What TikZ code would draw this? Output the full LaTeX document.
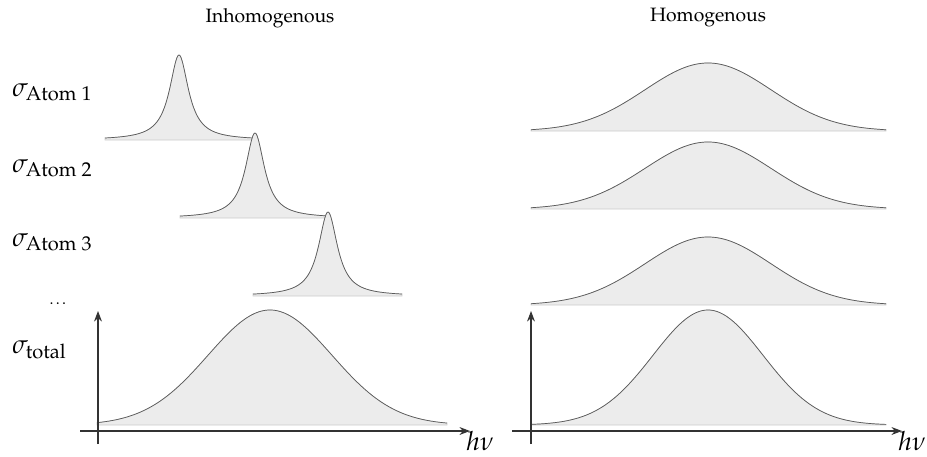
\documentclass[tikz,border=0pt]{standalone}
\usepackage{amsmath}
\usepackage[T1]{fontenc}
\usepackage{mathpazo}
\usetikzlibrary{arrows.meta}

\begin{document}
\begin{tikzpicture}[x=0.2mm, y=0.2mm,
  title/.style={font=\fontsize{11}{13}\selectfont},
  sig/.style={font=\fontsize{15}{18}\selectfont, anchor=base west, inner sep=0pt},
  peakfill/.style={fill=gray!15, draw=gray!40, line width=0.4pt},
  peakline/.style={draw=black!65, line width=0.4pt},
  axis/.style={->, >={Stealth[length=6pt, width=4.5pt]}, draw=black!80, line width=0.6pt}
]
\useasboundingbox (0,0) rectangle (927,456);

% Titles
\node[title] (inh) at (270,438) {Inhomogenous};
\node[title] (hom) at (708,438) {Homogenous};

% Labels
\node[sig] (s1) at (12,360) {$\sigma_{\text{Atom 1}}$};
\node[sig] (s2) at (12,284) {$\sigma_{\text{Atom 2}}$};
\node[sig] (s3) at (12,210) {$\sigma_{\text{Atom 3}}$};
\node[font=\small] (dots) at (59,152) {\dots};
\node[sig] (stot) at (12,103) {$\sigma_{\text{total}}$};

% Inhomogenous: single atoms
\filldraw[peakfill] (105,316) -- plot[domain=105:252, samples=150] (\x, {316 + 85/(1+((\x-179)/11.5)^2)}) -- (252,316) -- cycle;
\draw[peakline] plot[domain=105:252, samples=150] (\x, {316 + 85/(1+((\x-179)/11.5)^2)});
\filldraw[peakfill] (180,238) -- plot[domain=180:327, samples=150] (\x, {238 + 85/(1+((\x-255)/11.5)^2)}) -- (327,238) -- cycle;
\draw[peakline] plot[domain=180:327, samples=150] (\x, {238 + 85/(1+((\x-255)/11.5)^2)});
\filldraw[peakfill] (253,160) -- plot[domain=253:402, samples=150] (\x, {160 + 84/(1+((\x-328)/11.5)^2)}) -- (402,160) -- cycle;
\draw[peakline] plot[domain=253:402, samples=150] (\x, {160 + 84/(1+((\x-328)/11.5)^2)});

% Inhomogenous: total
\filldraw[peakfill] (97,31) -- plot[domain=97:447, samples=150] (\x, {31 + 115*exp(-0.5*((\x-270)/62)^2)}) -- (447,31) -- cycle;
\draw[peakline] plot[domain=97:447, samples=150] (\x, {31 + 115*exp(-0.5*((\x-270)/62)^2)});

% Homogenous: single atoms
\filldraw[peakfill] (531,325) -- plot[domain=531:886, samples=150] (\x, {325 + 68*exp(-0.5*((\x-708)/63)^2)}) -- (886,325) -- cycle;
\draw[peakline] plot[domain=531:886, samples=150] (\x, {325 + 68*exp(-0.5*((\x-708)/63)^2)});
\filldraw[peakfill] (531,247) -- plot[domain=531:886, samples=150] (\x, {247 + 67*exp(-0.5*((\x-708)/63)^2)}) -- (886,247) -- cycle;
\draw[peakline] plot[domain=531:886, samples=150] (\x, {247 + 67*exp(-0.5*((\x-708)/63)^2)});
\filldraw[peakfill] (531,151) -- plot[domain=531:886, samples=150] (\x, {151 + 68*exp(-0.5*((\x-708)/63)^2)}) -- (886,151) -- cycle;
\draw[peakline] plot[domain=531:886, samples=150] (\x, {151 + 68*exp(-0.5*((\x-708)/63)^2)});

% Homogenous: total
\filldraw[peakfill] (531,31) -- plot[domain=531:886, samples=150] (\x, {31 + 115*exp(-0.5*((\x-708)/55)^2)}) -- (886,31) -- cycle;
\draw[peakline] plot[domain=531:886, samples=150] (\x, {31 + 115*exp(-0.5*((\x-708)/55)^2)});

% Axes
\coordinate (lx0) at (80,25);
\coordinate (lx1) at (470,25);
\coordinate (ly0) at (98,12);
\coordinate (ly1) at (98,145);
\coordinate (rx0) at (512,25);
\coordinate (rx1) at (902,25);
\coordinate (ry0) at (531,12);
\coordinate (ry1) at (531,145);

\draw[axis] (lx0) -- (lx1);
\draw[axis] (ly0) -- (ly1);
\draw[axis] (rx0) -- (rx1);
\draw[axis] (ry0) -- (ry1);

\node[font=\fontsize{15}{18}\selectfont] (hnu1) at (480,15) {$h\nu$};
\node[font=\fontsize{15}{18}\selectfont] (hnu2) at (912,15) {$h\nu$};

\end{tikzpicture}
\end{document}
